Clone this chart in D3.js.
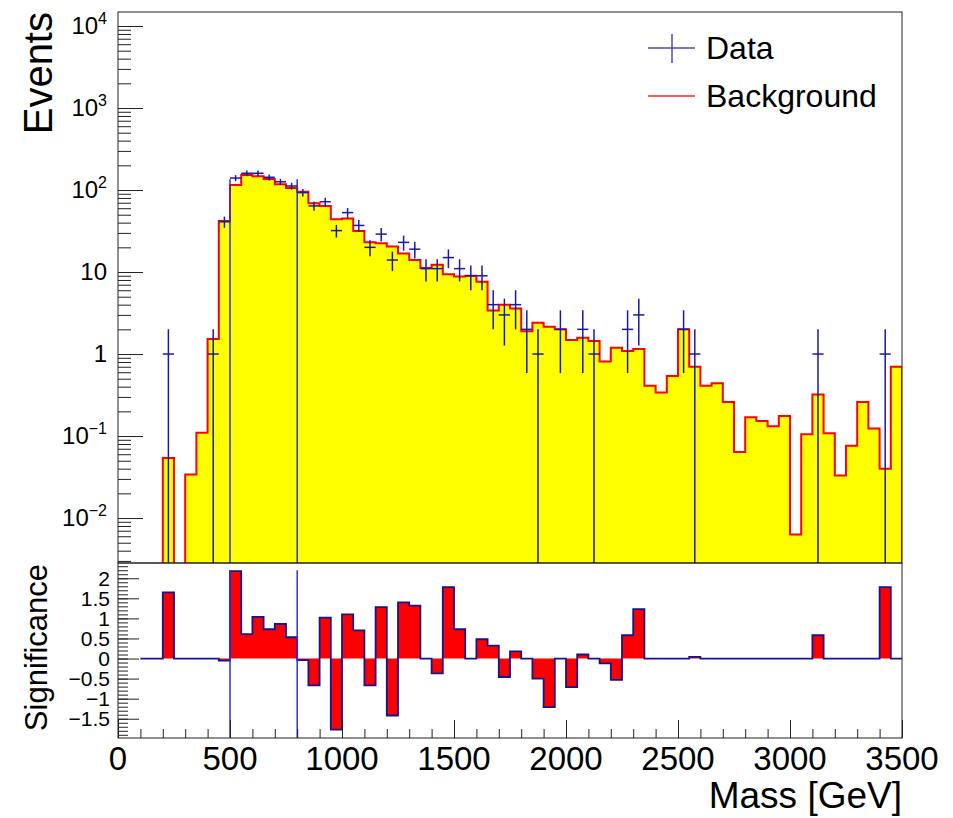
<!DOCTYPE html>
<html>
<head>
<meta charset="utf-8">
<script src="https://cdn.jsdelivr.net/npm/d3@7"></script>
<style>
  body { margin: 0; background: #fff; }
  svg { display: block; font-family: 'Liberation Sans', Arial, sans-serif; }
</style>
</head>
<body>
<svg id="chart" width="953" height="818"></svg>
<script>
// 50 GeV bins, 0 - 3500
const binWidth = 50;
const bkg = [0, 0, 0, 0, 0.054, 0, 0.034, 0.11, 1.52, 42,
  115, 152, 147, 136, 118, 106, 95, 69, 64, 44,
  45, 31.6, 23, 22.5, 20.5, 16.8, 14, 11.2, 12.3, 9.4,
  8.8, 9.0, 7.6, 3.4, 4.0, 3.6, 1.9, 2.4, 2.15, 2.0,
  1.48, 1.58, 1.44, 0.81, 1.19, 1.09, 1.15, 0.41, 0.34, 0.54,
  2.0, 0.70, 0.41, 0.44, 0.26, 0.064, 0.17, 0.153, 0.132, 0.175,
  0.0063, 0.105, 0.32, 0.108, 0.033, 0.076, 0.26, 0.124, 0.040, 0.70];
const data = [0, 0, 0, 0, 1, 0, 0, 0, 1, 41,
  140, 160, 160, 143, 126, 112, 93, 64, 72, 32,
  53, 37, 20, 29, 14, 23, 19, 11, 11, 15,
  11, 9, 9, 4, 3, 4, 2, 1, 0, 2,
  0, 2, 1, 0, 0, 2, 3, 0, 0, 0,
  2, 1, 0, 0, 0, 0, 0, 0, 0, 0,
  0, 0, 1, 0, 0, 0, 0, 0, 1, 0];
const sig = [null, null, 0, 0, 1.65, 0, 0, 0, 0, -0.05,
  2.18, 0.61, 1.04, 0.73, 0.86, 0.53, -0.04, -0.67, 1.02, -1.77,
  1.1, 0.7, -0.67, 1.28, -1.42, 1.4, 1.32, 0, -0.37, 1.78,
  0.73, 0, 0.48, 0.32, -0.46, 0.18, 0, -0.5, -1.21, 0,
  -0.71, 0.1, 0, -0.12, -0.53, 0.58, 1.23, 0, 0, 0,
  0, 0.04, 0, 0, 0, 0, 0, 0, 0, 0,
  0, 0, 0.58, 0, 0, 0, 0, 0, 1.78, 0];
// stray vertical lines seen at two bin edges
const spikeMass = [500, 800];
const spikeEvents = 135;
const spikeSig = 2.2;

const xTicks = [0, 500, 1000, 1500, 2000, 2500, 3000, 3500];
const logTicks = [[1e-2, '10', '\u22122'], [1e-1, '10', '\u22121'], [1, '1', ''], [10, '10', ''],
  [1e2, '10', '2'], [1e3, '10', '3'], [1e4, '10', '4']];
const sigTicks = [-1.5, -1, -0.5, 0, 0.5, 1, 1.5, 2];

const padL = 118, padR = 902, padT = 12, padM = 563, padB = 738;
const empty = 1e-3;

const svg = d3.select('#chart');
const x = d3.scaleLinear().domain([0, 3500]).range([padL, padR]);
const y = d3.scaleLog().domain([0.00283, 14820]).range([padM, padT]);
const ys = d3.scaleLinear().domain([-1.98, 2.38]).range([padB, padM]);

const defs = svg.append('defs');
defs.append('clipPath').attr('id', 'clipTop')
  .append('rect').attr('x', padL).attr('y', padT).attr('width', padR - padL).attr('height', padM - padT);
defs.append('clipPath').attr('id', 'clipBot')
  .append('rect').attr('x', padL).attr('y', padM).attr('width', padR - padL).attr('height', padB - padM);

// ---- top pad ----
const gTop = svg.append('g').attr('clip-path', 'url(#clipTop)');

const bkgPts = [];
bkg.forEach((v, i) => {
  const val = v > 0 ? v : empty;
  bkgPts.push([i * binWidth, val], [(i + 1) * binWidth, val]);
});
bkgPts.unshift([0, empty]);
bkgPts.push([bkg.length * binWidth, empty]);

gTop.append('path')
  .datum(bkgPts)
  .attr('d', d3.area().x((d) => x(d[0])).y0(padM + 40).y1((d) => y(d[1])))
  .attr('fill', '#ffff00');
gTop.append('path')
  .datum(bkgPts)
  .attr('d', d3.line().x((d) => x(d[0])).y((d) => y(d[1])))
  .attr('fill', 'none')
  .attr('stroke', '#ff0000')
  .attr('stroke-width', 2);

const dataColor = '#1a1aa8';
gTop.selectAll('line.spike')
  .data(spikeMass)
  .enter()
  .append('line')
  .attr('class', 'spike')
  .attr('x1', (d) => x(d)).attr('x2', (d) => x(d))
  .attr('y1', y(spikeEvents)).attr('y2', padM + 5)
  .attr('stroke', '#3030e0')
  .attr('stroke-width', 1.5);

const pts = data.map((d, i) => ({ i, d })).filter((p) => p.d > 0);
const cross = gTop.selectAll('g.pt').data(pts).enter().append('g').attr('class', 'pt');
cross.append('line')
  .attr('x1', (p) => x(p.i * binWidth)).attr('x2', (p) => x((p.i + 1) * binWidth))
  .attr('y1', (p) => y(p.d)).attr('y2', (p) => y(p.d))
  .attr('stroke', dataColor).attr('stroke-width', 1.5);
cross.append('line')
  .attr('x1', (p) => x((p.i + 0.5) * binWidth)).attr('x2', (p) => x((p.i + 0.5) * binWidth))
  .attr('y1', (p) => y(p.d + Math.sqrt(p.d)))
  .attr('y2', (p) => y(Math.max(p.d - Math.sqrt(p.d), empty)))
  .attr('stroke', dataColor).attr('stroke-width', 1.5);

// ---- bottom pad ----
const gBot = svg.append('g').attr('clip-path', 'url(#clipBot)');
const sigPts = [];
sig.forEach((v, i) => {
  if (v === null) return;
  sigPts.push([i * binWidth, v], [(i + 1) * binWidth, v]);
});
gBot.append('path')
  .datum(sigPts)
  .attr('d', d3.area().x((d) => x(d[0])).y0(ys(0)).y1((d) => ys(d[1])))
  .attr('fill', '#ff0000');
gBot.append('path')
  .datum(sigPts)
  .attr('d', d3.line().x((d) => x(d[0])).y((d) => ys(d[1])))
  .attr('fill', 'none')
  .attr('stroke', '#14148c')
  .attr('stroke-width', 1.8);
gBot.selectAll('line.spike')
  .data(spikeMass)
  .enter()
  .append('line')
  .attr('class', 'spike')
  .attr('x1', (d) => x(d)).attr('x2', (d) => x(d))
  .attr('y1', ys(spikeSig)).attr('y2', padB)
  .attr('stroke', '#3030e0')
  .attr('stroke-width', 1.5);

// ---- frames and axes ----
const frameColor = '#222';
svg.append('rect')
  .attr('x', padL).attr('y', padT).attr('width', padR - padL).attr('height', padM - padT)
  .attr('fill', 'none').attr('stroke', frameColor).attr('stroke-width', 1);
svg.append('rect')
  .attr('x', padL).attr('y', padM).attr('width', padR - padL).attr('height', padB - padM)
  .attr('fill', 'none').attr('stroke', frameColor).attr('stroke-width', 1);

// log y ticks (minor then major)
const minorLog = y.ticks().filter((t) => Math.abs(Math.log10(t) - Math.round(Math.log10(t))) > 1e-6);
svg.append('g')
  .attr('transform', `translate(${padL},0)`)
  .call(d3.axisLeft(y).tickValues(minorLog).tickSize(-13).tickFormat(''))
  .call((g) => g.select('.domain').remove())
  .call((g) => g.selectAll('line').attr('stroke', frameColor));
svg.append('g')
  .attr('transform', `translate(${padL},0)`)
  .call(d3.axisLeft(y).tickValues(logTicks.map((t) => t[0])).tickSize(-25).tickFormat(''))
  .call((g) => g.select('.domain').remove())
  .call((g) => g.selectAll('line').attr('stroke', frameColor));

const logLab = svg.append('g').selectAll('text').data(logTicks).enter().append('text')
  .attr('x', 107)
  .attr('y', (t) => y(t[0]) + 8)
  .attr('text-anchor', 'end')
  .attr('font-size', 24)
  .attr('fill', '#000');
logLab.append('tspan').text((t) => t[1]);
logLab.append('tspan')
  .attr('dy', -10)
  .attr('font-size', 16)
  .text((t) => t[2]);

// significance y ticks
const sigMinor = d3.range(-19, 24).map((k) => k / 10);
svg.append('g')
  .attr('transform', `translate(${padL},0)`)
  .call(d3.axisLeft(ys).tickValues(sigMinor).tickSize(-10).tickFormat(''))
  .call((g) => g.select('.domain').remove())
  .call((g) => g.selectAll('line').attr('stroke', frameColor));
svg.append('g')
  .attr('transform', `translate(${padL},0)`)
  .call(d3.axisLeft(ys).tickValues(sigTicks).tickSize(-21).tickFormat(''))
  .call((g) => g.select('.domain').remove())
  .call((g) => g.selectAll('line').attr('stroke', frameColor));
svg.append('g').selectAll('text').data(sigTicks).enter().append('text')
  .attr('x', 110)
  .attr('y', (t) => ys(t))
  .attr('dy', '0.35em')
  .attr('text-anchor', 'end')
  .attr('font-size', 21)
  .text((t) => (t < 0 ? '\u2212' + Math.abs(t) : String(t)));

// x ticks
svg.append('g')
  .attr('transform', `translate(0,${padB})`)
  .call(d3.axisBottom(x).tickValues(d3.range(0, 3501, 100)).tickSize(-9).tickFormat(''))
  .call((g) => g.select('.domain').remove())
  .call((g) => g.selectAll('line').attr('stroke', frameColor));
svg.append('g')
  .attr('transform', `translate(0,${padB})`)
  .call(d3.axisBottom(x).tickValues(xTicks).tickSize(-18).tickFormat(''))
  .call((g) => g.select('.domain').remove())
  .call((g) => g.selectAll('line').attr('stroke', frameColor));
svg.append('g').selectAll('text').data(xTicks).enter().append('text')
  .attr('x', (t) => x(t))
  .attr('y', 770)
  .attr('text-anchor', 'middle')
  .attr('font-size', 33)
  .text((t) => t);

// titles
svg.append('text')
  .attr('x', padR).attr('y', 808)
  .attr('text-anchor', 'end')
  .attr('font-size', 37)
  .text('Mass [GeV]');
svg.append('text')
  .attr('transform', `translate(52,${padT}) rotate(-90)`)
  .attr('text-anchor', 'end')
  .attr('font-size', 40)
  .text('Events');
svg.append('text')
  .attr('transform', `translate(47,${padM + 1}) rotate(-90)`)
  .attr('text-anchor', 'end')
  .attr('font-size', 31)
  .text('Significance');

// legend
const leg = svg.append('g');
leg.append('line').attr('x1', 648).attr('x2', 695).attr('y1', 48).attr('y2', 48)
  .attr('stroke', '#4a4ac0').attr('stroke-width', 1.5);
leg.append('line').attr('x1', 672).attr('x2', 672).attr('y1', 34).attr('y2', 63)
  .attr('stroke', '#4a4ac0').attr('stroke-width', 1.5);
leg.append('text').attr('x', 706).attr('y', 48).attr('dy', '0.35em')
  .attr('font-size', 32).text('Data');
leg.append('line').attr('x1', 648).attr('x2', 695).attr('y1', 96).attr('y2', 96)
  .attr('stroke', '#ff2020').attr('stroke-width', 1.5);
leg.append('text').attr('x', 706).attr('y', 96).attr('dy', '0.35em')
  .attr('font-size', 32).text('Background');
</script>
</body>
</html>
